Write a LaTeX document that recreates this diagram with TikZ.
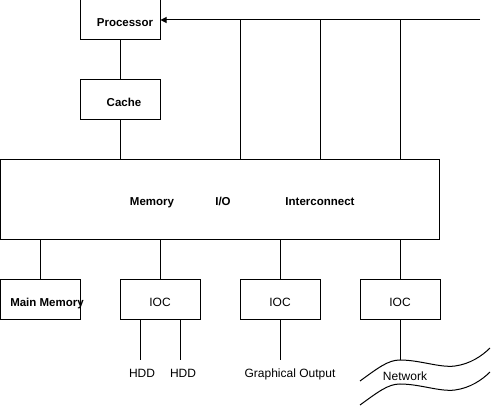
\documentclass[tikz,border=0pt]{standalone}
\usepackage{fontspec}
\setmainfont{Liberation Sans}
\usetikzlibrary{arrows.meta}
\begin{document}
\begin{tikzpicture}[x=1pt,y=-1pt, line width=1pt,
  box/.style={draw, minimum width=80pt, minimum height=40pt, inner sep=0pt},
  bl/.style={font=\fontsize{11.5}{13}\selectfont\bfseries, inner sep=0pt, anchor=base},
  rl/.style={font=\fontsize{12}{14}\selectfont, inner sep=0pt, anchor=base}]
\useasboundingbox (0,0) rectangle (491,406);
% boxes
\node[box] (proc) at (120,20) {};
\node[box] (cache) at (120,100) {};
\node[box, minimum width=439pt, minimum height=80pt] (bus) at (220,200) {};
\node[box] (mm) at (40.5,300) {};
\node[box] (ioc1) at (160,300) {};
\node[box] (ioc2) at (280,300) {};
\node[box] (ioc3) at (400,300) {};
% labels
\node[bl] (tproc) at (125,27) {Processor};
\node[bl] (tcache) at (124,107) {Cache};
\node[bl] (tmem) at (152,206) {Memory};
\node[bl] (tio) at (223,206) {I/O};
\node[bl] (tic) at (320,206) {Interconnect};
\node[bl] (tmm) at (47,306.5) {Main Memory};
\node[rl] (tioc1) at (160,306.5) {IOC};
\node[rl] (tioc2) at (280,306.5) {IOC};
\node[rl] (tioc3) at (400,306.5) {IOC};
\node[rl] (hdd1) at (142,377.5) {HDD};
\node[rl] (hdd2) at (183,377.5) {HDD};
\node[rl] (gout) at (290,377.5) {Graphical Output};
\node[rl] (net) at (405,381) {Network};
% coordinates
\coordinate (arr) at (480,20);
\coordinate (c1) at (240,20);
\coordinate (c2) at (320,20);
\coordinate (c3) at (400,20);
\coordinate (h1) at (140,360);
\coordinate (h2) at (180,360);
\coordinate (g1) at (280,360);
\coordinate (n1) at (400,360);
% connectors
\draw[-{Triangle[length=6pt,width=6pt]}] (arr) -- (proc.east);
\draw (proc.south) -- (cache.north);
\draw (cache.south) -- (cache.south |- bus.north);
\draw (c1) -- (c1 |- bus.north);
\draw (c2) -- (c2 |- bus.north);
\draw (c3) -- (c3 |- bus.north);
\draw (mm.north -| 40,0) -- (bus.south -| 40,0);
\draw (ioc1.north) -- (ioc1.north |- bus.south);
\draw (ioc2.north) -- (ioc2.north |- bus.south);
\draw (ioc3.north) -- (ioc3.north |- bus.south);
\draw (h1 |- ioc1.south) -- (h1);
\draw (h2 |- ioc1.south) -- (h2);
\draw (g1 |- ioc2.south) -- (g1);
\draw (n1 |- ioc3.south) -- (n1);
% network tape
\draw (360,381) .. controls (378,368) and (388,360) .. (400,360)
      .. controls (420,360) and (440,368) .. (455,366)
      .. controls (470,364) and (482,356) .. (490,348);
\draw (360,405) .. controls (378,392) and (388,384) .. (400,384)
      .. controls (420,384) and (440,392) .. (455,390)
      .. controls (470,388) and (482,380) .. (490,372);
\end{tikzpicture}
\end{document}
